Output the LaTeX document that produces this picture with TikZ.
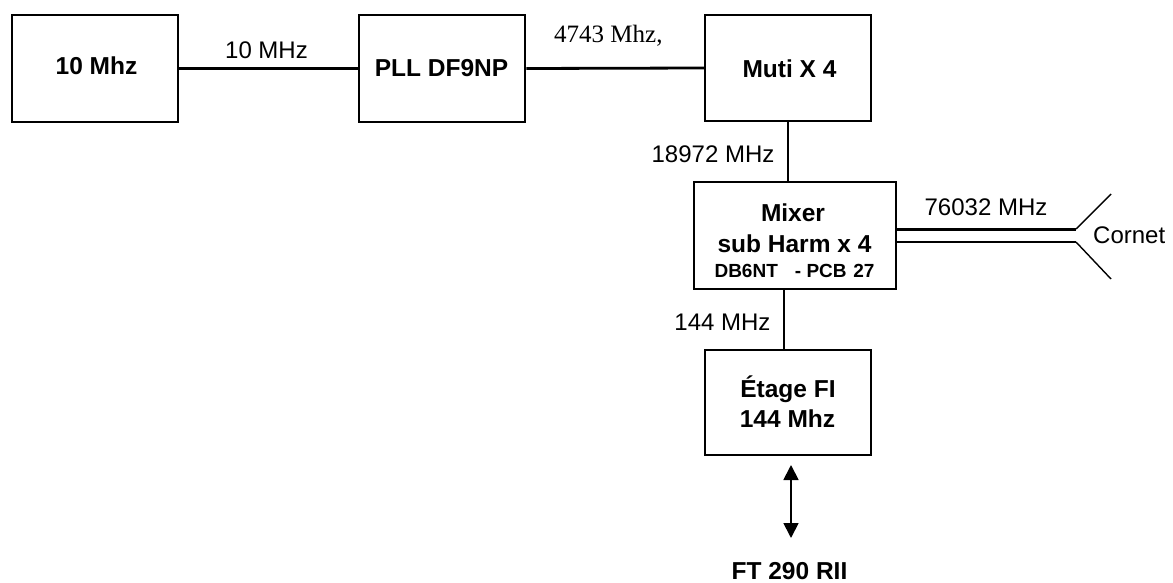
\documentclass[tikz,border=0pt]{standalone}
\usepackage{fontspec}
\setmainfont{Liberation Sans}
\newfontfamily\serifface{Liberation Serif}
\usetikzlibrary{arrows.meta}
\newcommand\boxfnt{\fontsize{24.5}{28}\selectfont\bfseries}
\newcommand\smallboxfnt{\fontsize{19}{22}\selectfont\bfseries}
\newcommand\lblfnt{\fontsize{24}{28}\selectfont}
\begin{document}
\begin{tikzpicture}[x=1pt,y=-1pt,
  blk/.style={draw, line width=2.5pt, inner sep=0pt},
  btxt/.style={anchor=base, inner sep=0pt, font=\boxfnt},
  ltxt/.style={anchor=base, inner sep=0pt, font=\lblfnt},
  wire/.style={line width=2.8pt},
  thinwire/.style={line width=1.4pt}]
\useasboundingbox (0,0) rectangle (1173,583);

% boxes
\node[blk, minimum width=166pt, minimum height=107pt] (osc) at (95,68.5) {};
\node[blk, minimum width=166pt, minimum height=107pt] (pll) at (442,68.5) {};
\node[blk, minimum width=166pt, minimum height=106pt] (mul) at (788,68) {};
\node[blk, minimum width=202pt, minimum height=107pt] (mix) at (795,235.5) {};
\node[blk, minimum width=166pt, minimum height=105pt] (fi) at (788,402.5) {};

% box texts
\node[btxt] (tosc) at (96.5,75) {10 Mhz};
\node[btxt] (tpll) at (441.5,77) {PLL DF9NP};
\node[btxt] (tmul) at (789.5,78) {Muti X 4};
\node[btxt] (tmix1) at (793,222) {Mixer};
\node[btxt] (tmix2) at (794.5,252) {sub Harm x 4};
\node[anchor=base, inner sep=0pt, font=\smallboxfnt] (tmix3) at (794.5,277) {DB6NT\hspace{0.9em}- PCB\hspace{0.35em}27};
\node[btxt] (tfi1) at (788,397) {Étage FI};
\node[btxt] (tfi2) at (787.5,427) {144 Mhz};
\node[btxt] (ft) at (789.5,579) {FT 290 RII};

% connector labels
\node[ltxt] (l10) at (266.5,59) {10 MHz};
\node[anchor=base west, inner sep=0pt, font=\fontsize{25}{29}\selectfont\serifface] (l4743) at (554,43) {4743 Mhz,};
\node[ltxt] (l18) at (713,163) {18972 MHz};
\node[ltxt] (l76) at (986,215) {76032 MHz};
\node[anchor=base west, inner sep=0pt, font=\lblfnt] (lcor) at (1093,243) {Cornet};
\node[ltxt] (l144) at (722.5,330) {144 MHz};

% connectors
\draw[wire] (osc.east) -- (pll.west);
\draw[wire] (pll.east) -- (mul.west);
\draw[wire] (mul.south) -- (mul.south |- mix.north);
\coordinate (d1) at (784,290);
\draw[thinwire] (d1 |- mix.south) -- (d1 |- fi.north);

% waveguide to horn
\coordinate (h1) at (1076,229);
\coordinate (h2) at (1076,242);
\coordinate (t1) at (1111,194);
\coordinate (t2) at (1111,279);
\draw[line width=3pt] (mix.east |- h1) -- (h1);
\draw[line width=2pt] (mix.east |- h2) -- (h2);
\draw[thinwire] (h1) -- (t1);
\draw[thinwire] (h2) -- (t2);

% bidirectional arrow
\coordinate (a1) at (791,465);
\coordinate (a2) at (791,538);
\draw[line width=1.8pt, {Triangle[length=15pt,width=15pt]}-{Triangle[length=15pt,width=15pt]}] (a1) -- (a2);
\end{tikzpicture}
\end{document}
